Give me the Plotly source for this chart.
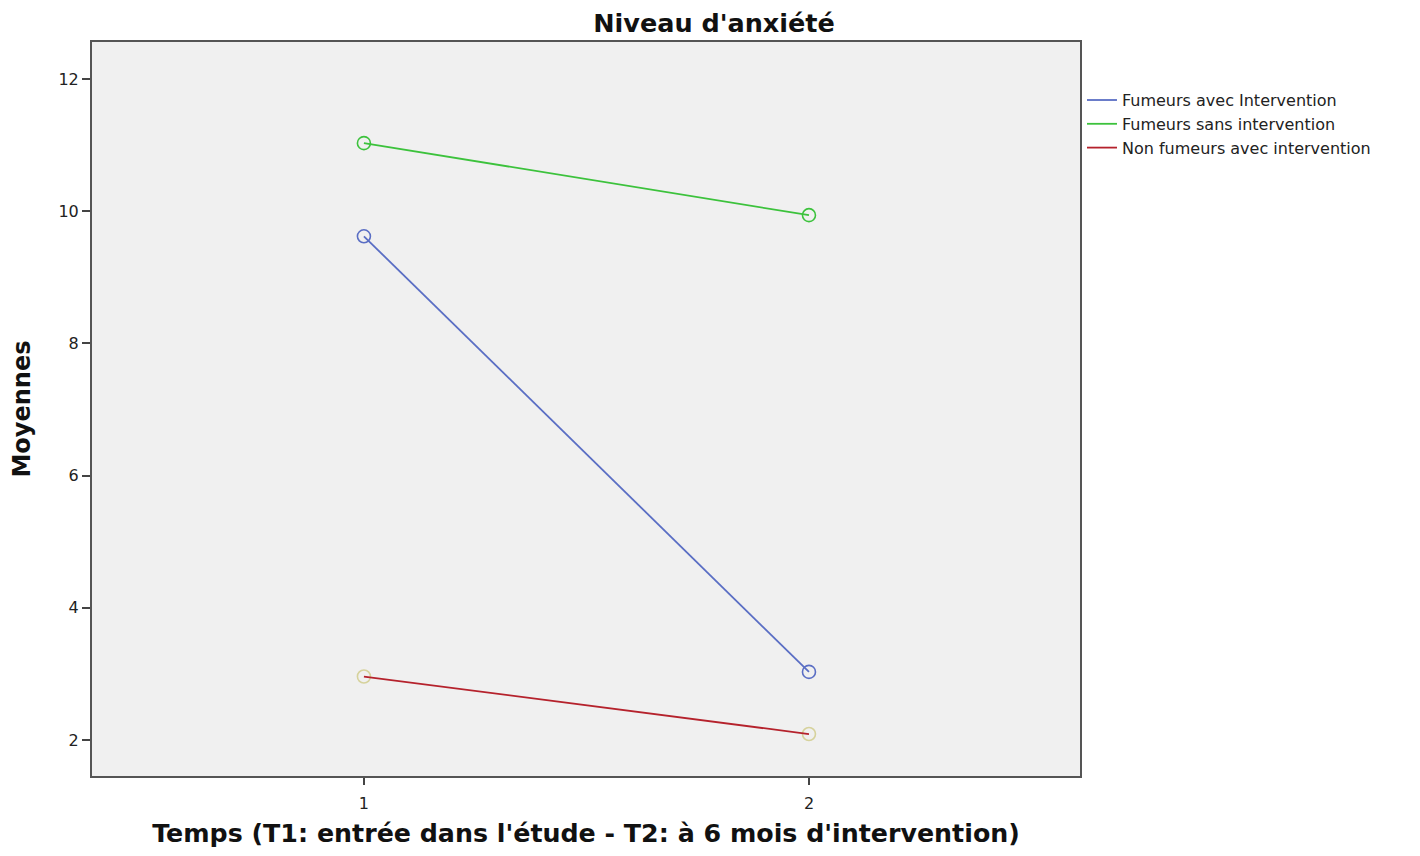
import plotly.graph_objects as go

times = [1, 2]
series_names = ["Fumeurs avec Intervention", "Fumeurs sans intervention", "Non fumeurs avec intervention"]
fumeurs_avec = [9.62, 3.03]
fumeurs_sans = [11.03, 9.94]
non_fumeurs = [2.96, 2.09]
y_ticks = [2, 4, 6, 8, 10, 12]

line_colors = ["#5a6ec4", "#3cc23c", "#b5222c"]
marker_colors = ["#5a6ec4", "#3cc23c", "#d6d29c"]
values = [fumeurs_avec, fumeurs_sans, non_fumeurs]

font_family = "DejaVu Sans"
W, H = 1404, 840
L, T, R, B = 84, 34, W - 1072, H - 768

fig = go.Figure()
for name, vals, lc, mc in zip(series_names, values, line_colors, marker_colors):
    fig.add_trace(go.Scatter(x=times, y=vals, mode="markers", showlegend=False,
                             marker=dict(symbol="circle-open", size=13, color=mc, line=dict(width=1.6, color=mc)),
                             hoverinfo="skip"))
for name, vals, lc, mc in zip(series_names, values, line_colors, marker_colors):
    fig.add_trace(go.Scatter(x=times, y=vals, mode="lines", name=name,
                             line=dict(color=lc, width=1.8)))

fig.update_layout(
    width=W, height=H,
    margin=dict(l=L, r=R, t=T, b=B, autoexpand=False),
    paper_bgcolor="white",
    plot_bgcolor="#f0f0f0",
    title=dict(text="<b>Niveau d'anxiété</b>", x=706 / W, xanchor="center",
               y=1 - 15 / H, yanchor="middle",
               font=dict(family=font_family, size=25.5, color="#111111")),
    font=dict(family=font_family, color="#222222"),
    legend=dict(x=1.002, y=0.944, xanchor="left", yanchor="top",
                font=dict(family=font_family, size=16, color="#222222"),
                bgcolor="rgba(0,0,0,0)", tracegroupgap=0, itemwidth=30),
    xaxis=dict(range=[0.389, 2.609], tickvals=times, ticktext=["1", "2"],
               showgrid=False, zeroline=False, automargin=False,
               showline=True, linecolor="#555555", linewidth=2, mirror=True,
               ticks="outside", ticklen=7, tickcolor="#444444", tickwidth=1.5,
               ticklabelstandoff=5,
               tickfont=dict(size=16, color="#222222"),
               title=dict(text="<b>Temps (T1: entrée dans l'étude - T2: à 6 mois d'intervention)</b>",
                          font=dict(size=25.3, color="#111111"), standoff=17)),
    yaxis=dict(range=[1.455, 12.56], tickvals=y_ticks,
               showgrid=False, zeroline=False, automargin=False,
               showline=True, linecolor="#555555", linewidth=2, mirror=True,
               ticks="outside", ticklen=8, tickcolor="#444444", tickwidth=1.5,
               tickfont=dict(size=16, color="#222222"),
               title=dict(text="<b>Moyennes</b>", font=dict(size=24, color="#111111"), standoff=22)),
)

fig.write_html("out.html")
